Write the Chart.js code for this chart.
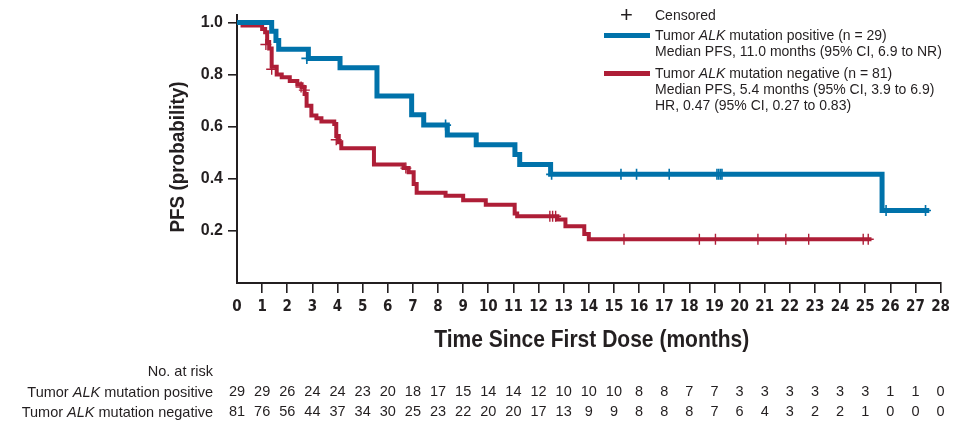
<!DOCTYPE html>
<html>
<head>
<meta charset="utf-8">
<script src="https://cdn.jsdelivr.net/npm/chart.js@4.4.1/dist/chart.umd.min.js"></script>
<style>
  html, body { margin: 0; padding: 0; background: #fff; }
  #wrap { position: relative; width: 955px; height: 426px; overflow: hidden;
          font-family: 'Liberation Sans', Arial, sans-serif; color: #231f20; }
  #c { position: absolute; left: 0; top: 0; }
  .lg { position: absolute; left: 655px; font-size: 14px; line-height: 16px; white-space: nowrap; }
  .sw { position: absolute; left: 604px; width: 46px; height: 5px; }
  .cens { position: absolute; left: 620px; top: 3px; font-size: 22px; line-height: 24px; }
  .rl { position: absolute; right: 742px; font-size: 14.5px; line-height: 16px; white-space: nowrap; }
</style>
</head>
<body>
<div id="wrap">
  <canvas id="c" width="955" height="426"></canvas>

  <div class="cens">+</div>
  <div class="lg" style="top:7px">Censored</div>
  <div class="sw" style="top:33px;background:#0072aa"></div>
  <div class="lg" style="top:27px">Tumor <i>ALK</i> mutation positive (n = 29)<br>Median PFS, 11.0 months (95% CI, 6.9 to NR)</div>
  <div class="sw" style="top:71px;background:#ae1e37"></div>
  <div class="lg" style="top:65px">Tumor <i>ALK</i> mutation negative (n = 81)<br>Median PFS, 5.4 months (95% CI, 3.9 to 6.9)<br>HR, 0.47 (95% CI, 0.27 to 0.83)</div>

  <div class="rl" style="top:363px">No. at risk</div>
  <div class="rl" style="top:384px">Tumor <i>ALK</i> mutation positive</div>
  <div class="rl" style="top:404px">Tumor <i>ALK</i> mutation negative</div>
</div>

<script>
// Kaplan-Meier step vertices: time (months) and PFS probability after each step
const posTimes = [0, 1.38, 1.55, 1.66, 2.84, 4.1, 5.57, 6.95, 7.43, 8.37, 9.52, 11.06, 11.25, 12.48, 25.67, 27.55];
const posSurv  = [1.0, 0.966, 0.931, 0.897, 0.862, 0.826, 0.718, 0.646, 0.606, 0.568, 0.531, 0.493, 0.455, 0.417, 0.278, 0.278];

const negTimes = [0, 0.22, 1.0, 1.12, 1.2, 1.28, 1.38, 1.58, 1.78, 2.1, 2.4, 2.57, 2.69, 2.77, 2.96, 3.16, 3.36, 3.87, 3.95, 4.05, 4.15, 5.45, 6.63, 6.83, 7.03, 7.15, 8.3, 9.0, 9.9, 11.05, 11.15, 12.75, 13.07, 13.82, 14.0, 25.25];
const negSurv  = [1.0, 0.988, 0.975, 0.962, 0.925, 0.9, 0.83, 0.8, 0.79, 0.775, 0.763, 0.752, 0.725, 0.68, 0.643, 0.632, 0.62, 0.61, 0.564, 0.54, 0.517, 0.455, 0.441, 0.425, 0.38, 0.346, 0.335, 0.318, 0.3, 0.267, 0.256, 0.244, 0.218, 0.188, 0.168, 0.168];

// Censored observations
const posCensTimes = [2.78, 8.3, 12.52, 15.28, 15.9, 17.2, 19.1, 19.17, 19.24, 19.3, 25.83, 27.4];
const posCensSurv  = [0.862, 0.606, 0.417, 0.417, 0.417, 0.417, 0.417, 0.417, 0.417, 0.417, 0.278, 0.278];
const negCensTimes = [1.15, 1.38, 2.55, 2.68, 3.95, 6.72, 12.45, 12.56, 12.68, 15.4, 18.4, 19.04, 20.73, 21.84, 22.75, 24.92, 25.12];
const negCensSurv  = [0.915, 0.82, 0.752, 0.74, 0.55, 0.441, 0.256, 0.256, 0.256, 0.168, 0.168, 0.168, 0.168, 0.168, 0.168, 0.168, 0.168];

// Number at risk at each whole month
const riskMonths = [0,1,2,3,4,5,6,7,8,9,10,11,12,13,14,15,16,17,18,19,20,21,22,23,24,25,26,27,28];
const riskPos = [29,29,26,24,24,23,20,18,17,15,14,14,12,10,10,10,8,8,7,7,3,3,3,3,3,3,1,1,0];
const riskNeg = [81,76,56,44,37,34,30,25,23,22,20,20,17,13,9,9,8,8,8,7,6,4,3,2,2,1,0,0,0];

const yTicks = [0.2, 0.4, 0.6, 0.8, 1.0];

const xTitle = 'Time Since First Dose (months)';
const yTitle = 'PFS (probability)';

const BLUE = '#0072aa';
const RED = '#ae1e37';
const INK = '#231f20';

const pts = (xs, ys) => xs.map((x, i) => ({ x: x, y: ys[i] }));

// Condensed bold text: draw with a horizontal squeeze so it fills the given width
function condensedText(ctx, text, cx, cy, width, size, angle) {
  ctx.save();
  ctx.font = 'bold ' + size + 'px "Liberation Sans", Arial, sans-serif';
  const w = ctx.measureText(text).width;
  ctx.translate(cx, cy);
  ctx.rotate(angle);
  ctx.scale(width / w, 1);
  ctx.textAlign = 'center';
  ctx.textBaseline = 'middle';
  ctx.fillStyle = INK;
  ctx.fillText(text, 0, 0);
  ctx.restore();
}

const extras = {
  id: 'extras',
  afterDraw(chart) {
    const ctx = chart.ctx;
    const xs = chart.scales.x;
    const ca = chart.chartArea;

    // axis titles
    condensedText(ctx, xTitle, (ca.left + ca.right) / 2 + 3, 340, 315, 24, 0);
    condensedText(ctx, yTitle, 178, 157, 151, 21, -Math.PI / 2);

    // number-at-risk table
    ctx.save();
    ctx.font = '14.5px "Liberation Sans", Arial, sans-serif';
    ctx.fillStyle = INK;
    ctx.textAlign = 'center';
    ctx.textBaseline = 'middle';
    riskMonths.forEach((m, i) => {
      const px = xs.getPixelForValue(m);
      ctx.fillText(String(riskPos[i]), px, 392);
      ctx.fillText(String(riskNeg[i]), px, 412);
    });
    ctx.restore();
  }
};

new Chart(document.getElementById('c'), {
  type: 'line',
  data: {
    datasets: [
      { label: 'Tumor ALK mutation positive', data: pts(posTimes, posSurv), stepped: true,
        borderColor: BLUE, borderWidth: 5, pointRadius: 0, fill: false, order: 1,
        borderCapStyle: 'butt', borderJoinStyle: 'miter' },
      { label: 'Censored (positive)', data: pts(posCensTimes, posCensSurv), showLine: false,
        pointStyle: 'cross', pointRadius: 5.5, pointBorderWidth: 1.6, borderColor: BLUE,
        backgroundColor: BLUE, order: 0 },
      { label: 'Tumor ALK mutation negative', data: pts(negTimes, negSurv), stepped: true,
        borderColor: RED, borderWidth: 4, pointRadius: 0, fill: false, order: 3,
        borderCapStyle: 'butt', borderJoinStyle: 'miter' },
      { label: 'Censored (negative)', data: pts(negCensTimes, negCensSurv), showLine: false,
        pointStyle: 'cross', pointRadius: 5.5, pointBorderWidth: 1.4, borderColor: RED,
        backgroundColor: RED, order: 2 }
    ]
  },
  options: {
    responsive: false,
    animation: false,
    devicePixelRatio: 1,
    layout: { padding: { left: 160, top: 8, right: 9, bottom: 71 } },
    plugins: { legend: { display: false }, tooltip: { enabled: false } },
    scales: {
      x: {
        type: 'linear', min: 0, max: 28,
        afterFit: s => { s.height = 72; },
        ticks: { stepSize: 1, autoSkip: false, maxRotation: 0, padding: 5, color: INK,
                 font: { family: '"DejaVu Sans Condensed", "Liberation Sans", sans-serif', size: 15, weight: 'bold' },
                 callback: v => String(v) },
        grid: { drawOnChartArea: false, drawTicks: true, tickLength: 10, lineWidth: 1.6,
                color: c => (c.tick && c.tick.value === 0) ? 'rgba(0,0,0,0)' : INK },
        border: { display: true, color: INK, width: 2 },
        title: { display: false }
      },
      y: {
        type: 'linear', min: 0, max: 1.03,
        afterFit: s => { s.width = 77; },
        afterBuildTicks: s => { s.ticks = [0].concat(yTicks).map(v => ({ value: v })); },
        ticks: { padding: 5, color: INK,
                 font: { family: '"Liberation Sans", Arial, sans-serif', size: 16, weight: 'bold' },
                 callback: v => v === 0 ? '' : v.toFixed(1) },
        grid: { drawOnChartArea: false, drawTicks: true, tickLength: 9, lineWidth: 1.6,
                color: c => (c.tick && c.tick.value === 0) ? 'rgba(0,0,0,0)' : INK },
        border: { display: true, color: INK, width: 2 },
        title: { display: false }
      }
    }
  },
  plugins: [extras]
});
</script>
</body>
</html>
